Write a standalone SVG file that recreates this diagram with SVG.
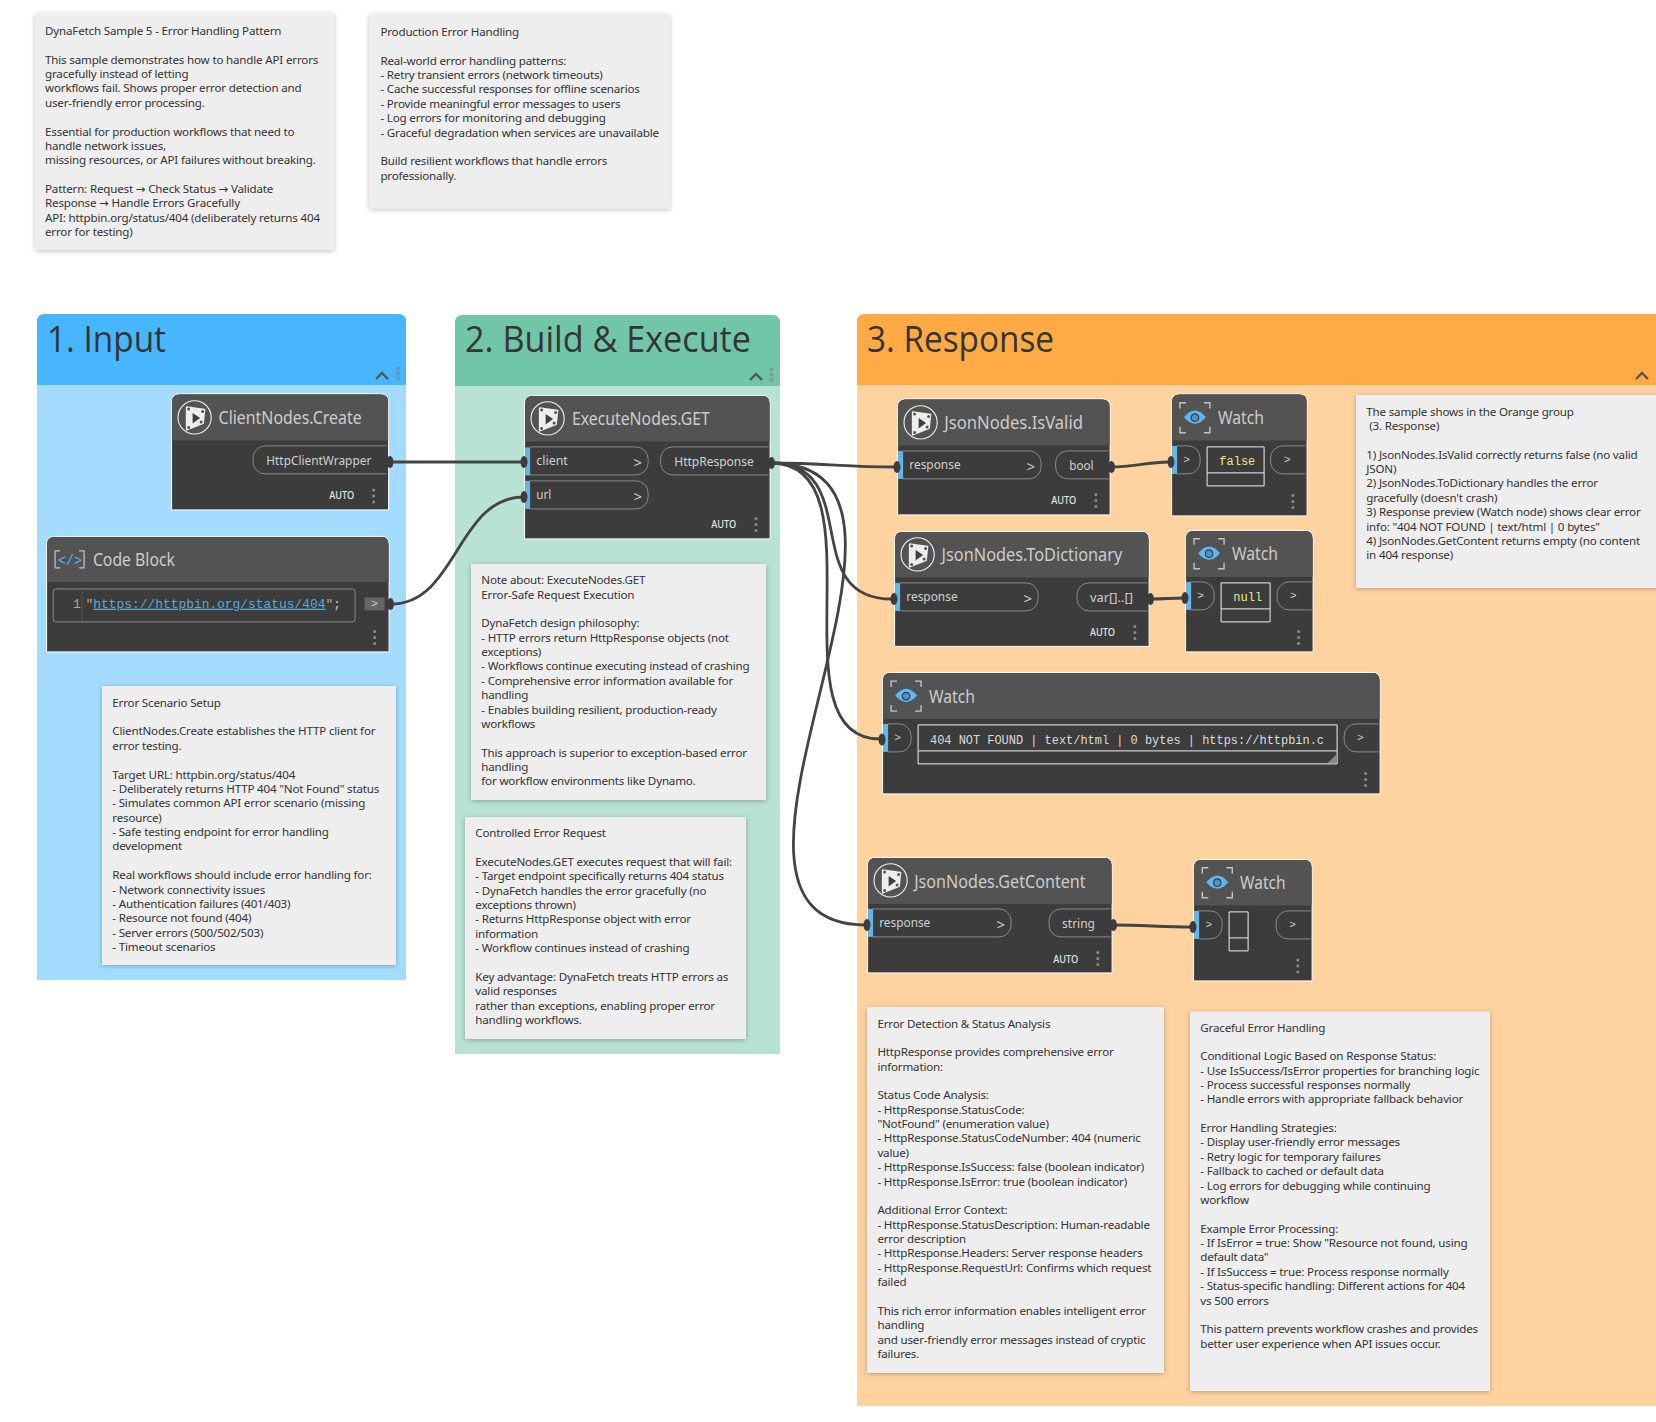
<svg xmlns="http://www.w3.org/2000/svg" xmlns:xlink="http://www.w3.org/1999/xlink" width="1656" height="1422" viewBox="0 0 1656 1422">
<style>
text{font-family:"Noto Sans","DejaVu Sans",sans-serif}
.bg{fill:#fff}
.gt{font-size:36px;fill:#353535;font-weight:400;font-family:"Open Sans","Noto Sans",sans-serif}
.note{fill:#eee;filter:url(#sh)}
.nt{font-size:11.6px;fill:#333;letter-spacing:-.18px}
.body{fill:#3c3c3c;stroke:#fff;stroke-width:1}
.bar{fill:#535353}
.title{font-size:18px;fill:#ccc}
.port{font-size:13px;fill:#d0d0d0}
.pill{fill:none;stroke:#8a8a8a;stroke-width:1}
.blue{fill:#62b7e8}
.chev{font-size:15px;fill:#d0d0d0}
.wch{font-size:11px;fill:#ccc;font-family:"Liberation Mono",monospace}
.auto{font-size:10.5px;fill:#e4e4e4;font-weight:500}
.box{fill:none;stroke:#eee;stroke-width:1}
.mono{font-size:12px;font-family:"Liberation Mono",monospace}
.wire{fill:none;stroke:#444;stroke-width:2.8}
.stub{fill:#3c3c3c}
.ch{fill:none;stroke:#555;stroke-width:2.4}
.gd{fill:none;stroke:#777;stroke-width:.9}
</style>
<defs>
<filter id="sh" x="-5%" y="-5%" width="110%" height="110%"><feDropShadow dx="0" dy="1" stdDeviation="2.5" flood-color="#000" flood-opacity=".28"/></filter>
<g id="dyn">
<circle r="16.6" fill="none" stroke="#f2f2f2" stroke-width="1.1"/>
<path d="M-8,-10.5L10,-8L8.5,6L-8,12.5Z" fill="#eee" stroke="#eee" stroke-width="1.5" stroke-linejoin="round"/>
<path d="M-2,-4.5L5.5,0.5L-2,6Z" fill="#3f3f3f"/>
<circle cx="-6" cy="-8.5" r="1.5" fill="#555"/><circle cx="8" cy="-6" r="1.5" fill="#555"/><circle cx="6.5" cy="4.5" r="1.5" fill="#555"/><circle cx="-6" cy="10" r="1.5" fill="#555"/>
</g>
<g id="eye">
<path d="M-15,-9V-15H-9M9,-15H15V-9M-15,9V15H-9M9,15H15V9" fill="none" stroke="#c4c4c4" stroke-width="1.4"/>
<path d="M-11,-.5Q0,-14 11,-.5Q0,12.5 -11,-.5Z" fill="#5db8f2"/>
<circle r="3.8" fill="#4d94c4" stroke="#3c3c3c" stroke-width="1.2"/>
</g>
<g id="dots"><circle cy="-6" r="1.5" fill="#8c8c8c"/><circle r="1.5" fill="#8c8c8c"/><circle cy="6" r="1.5" fill="#8c8c8c"/></g>
<g id="gmenu"><path class="ch" d="M-6,4L0,-2L6,4"/></g>
<g id="gdots"><circle class="gd" cy="-5" r="1.4"/><circle class="gd" r="1.4"/><circle class="gd" cy="5" r="1.4"/></g>
</defs>
<rect class="bg" width="1656" height="1422"/>

<g id="group-input">
<path d="M37,980V322Q37,314 45,314H398Q406,314 406,322V980Z" fill="#a4dcff"/>
<path d="M37,385V322Q37,314 45,314H398Q406,314 406,322V385Z" fill="#48b6ff"/>
<text class="gt" x="47" y="351.5" textLength="119" lengthAdjust="spacingAndGlyphs">1. Input</text>
<use xlink:href="#gmenu" href="#gmenu" x="382" y="375"/><use xlink:href="#gdots" href="#gdots" x="398" y="373.5"/>
</g>
<g id="group-build">
<path d="M455,1054V323Q455,315 463,315H772Q780,315 780,323V1054Z" fill="#b8e2d3"/>
<path d="M455,386V323Q455,315 463,315H772Q780,315 780,323V386Z" fill="#71c6a8"/>
<text class="gt" x="465" y="351.5" textLength="286" lengthAdjust="spacingAndGlyphs">2. Build &amp; Execute</text>
<use xlink:href="#gmenu" href="#gmenu" x="756" y="376"/><use xlink:href="#gdots" href="#gdots" x="771.5" y="374.5"/>
</g>
<g id="group-response">
<path d="M857,1406V322Q857,314 865,314H1656V1406Z" fill="#ffd3a0"/>
<path d="M857,385V322Q857,314 865,314H1656V385Z" fill="#ffaa45"/>
<text class="gt" x="867" y="351.5" textLength="187" lengthAdjust="spacingAndGlyphs">3. Response</text>
<use xlink:href="#gmenu" href="#gmenu" x="1642" y="375"/>
</g>

<g id="note-sample">
<rect class="note" x="35.5" y="13.5" width="298.5" height="236.5"/>
<text class="nt" y="35"><tspan x="45">DynaFetch Sample 5 - Error Handling Pattern</tspan><tspan x="45" dy="28.74">This sample demonstrates how to handle API errors</tspan><tspan x="45" dy="14.37">gracefully instead of letting</tspan><tspan x="45" dy="14.37">workflows fail. Shows proper error detection and</tspan><tspan x="45" dy="14.37">user-friendly error processing.</tspan><tspan x="45" dy="28.74">Essential for production workflows that need to</tspan><tspan x="45" dy="14.37">handle network issues,</tspan><tspan x="45" dy="14.37">missing resources, or API failures without breaking.</tspan><tspan x="45" dy="28.74">Pattern: Request → Check Status → Validate</tspan><tspan x="45" dy="14.37">Response → Handle Errors Gracefully</tspan><tspan x="45" dy="14.37">API: httpbin.org/status/404 (deliberately returns 404</tspan><tspan x="45" dy="14.37">error for testing)</tspan></text>
</g>
<g id="note-production">
<rect class="note" x="369.5" y="14.5" width="300" height="194"/>
<text class="nt" y="36"><tspan x="380.4">Production Error Handling</tspan><tspan x="380.4" dy="28.74">Real-world error handling patterns:</tspan><tspan x="380.4" dy="14.37">- Retry transient errors (network timeouts)</tspan><tspan x="380.4" dy="14.37">- Cache successful responses for offline scenarios</tspan><tspan x="380.4" dy="14.37">- Provide meaningful error messages to users</tspan><tspan x="380.4" dy="14.37">- Log errors for monitoring and debugging</tspan><tspan x="380.4" dy="14.37">- Graceful degradation when services are unavailable</tspan><tspan x="380.4" dy="28.74">Build resilient workflows that handle errors</tspan><tspan x="380.4" dy="14.37">professionally.</tspan></text>
</g>
<g id="note-scenario">
<rect class="note" x="102" y="686" width="294" height="279"/>
<text class="nt" y="706.7"><tspan x="112.3">Error Scenario Setup</tspan><tspan x="112.3" dy="28.74">ClientNodes.Create establishes the HTTP client for</tspan><tspan x="112.3" dy="14.37">error testing.</tspan><tspan x="112.3" dy="28.74">Target URL: httpbin.org/status/404</tspan><tspan x="112.3" dy="14.37">- Deliberately returns HTTP 404 "Not Found" status</tspan><tspan x="112.3" dy="14.37">- Simulates common API error scenario (missing</tspan><tspan x="112.3" dy="14.37">resource)</tspan><tspan x="112.3" dy="14.37">- Safe testing endpoint for error handling</tspan><tspan x="112.3" dy="14.37">development</tspan><tspan x="112.3" dy="28.74">Real workflows should include error handling for:</tspan><tspan x="112.3" dy="14.37">- Network connectivity issues</tspan><tspan x="112.3" dy="14.37">- Authentication failures (401/403)</tspan><tspan x="112.3" dy="14.37">- Resource not found (404)</tspan><tspan x="112.3" dy="14.37">- Server errors (500/502/503)</tspan><tspan x="112.3" dy="14.37">- Timeout scenarios</tspan></text>
</g>
<g id="note-get">
<rect class="note" x="471" y="564" width="295" height="236"/>
<text class="nt" y="584.2"><tspan x="481.3">Note about: ExecuteNodes.GET</tspan><tspan x="481.3" dy="14.37">Error-Safe Request Execution</tspan><tspan x="481.3" dy="28.74">DynaFetch design philosophy:</tspan><tspan x="481.3" dy="14.37">- HTTP errors return HttpResponse objects (not</tspan><tspan x="481.3" dy="14.37">exceptions)</tspan><tspan x="481.3" dy="14.37">- Workflows continue executing instead of crashing</tspan><tspan x="481.3" dy="14.37">- Comprehensive error information available for</tspan><tspan x="481.3" dy="14.37">handling</tspan><tspan x="481.3" dy="14.37">- Enables building resilient, production-ready</tspan><tspan x="481.3" dy="14.37">workflows</tspan><tspan x="481.3" dy="28.74">This approach is superior to exception-based error</tspan><tspan x="481.3" dy="14.37">handling</tspan><tspan x="481.3" dy="14.37">for workflow environments like Dynamo.</tspan></text>
</g>
<g id="note-controlled">
<rect class="note" x="465" y="817" width="281" height="222"/>
<text class="nt" y="837.2"><tspan x="475.3">Controlled Error Request</tspan><tspan x="475.3" dy="28.74">ExecuteNodes.GET executes request that will fail:</tspan><tspan x="475.3" dy="14.37">- Target endpoint specifically returns 404 status</tspan><tspan x="475.3" dy="14.37">- DynaFetch handles the error gracefully (no</tspan><tspan x="475.3" dy="14.37">exceptions thrown)</tspan><tspan x="475.3" dy="14.37">- Returns HttpResponse object with error</tspan><tspan x="475.3" dy="14.37">information</tspan><tspan x="475.3" dy="14.37">- Workflow continues instead of crashing</tspan><tspan x="475.3" dy="28.74">Key advantage: DynaFetch treats HTTP errors as</tspan><tspan x="475.3" dy="14.37">valid responses</tspan><tspan x="475.3" dy="14.37">rather than exceptions, enabling proper error</tspan><tspan x="475.3" dy="14.37">handling workflows.</tspan></text>
</g>
<g id="note-orange">
<rect class="note" x="1356" y="395" width="310" height="193"/>
<text class="nt" y="415.6"><tspan x="1366.3">The sample shows in the Orange group</tspan><tspan x="1366.3" dy="14.37"> (3. Response)</tspan><tspan x="1366.3" dy="28.74">1) JsonNodes.IsValid correctly returns false (no valid</tspan><tspan x="1366.3" dy="14.37">JSON)</tspan><tspan x="1366.3" dy="14.37">2) JsonNodes.ToDictionary handles the error</tspan><tspan x="1366.3" dy="14.37">gracefully (doesn't crash)</tspan><tspan x="1366.3" dy="14.37">3) Response preview (Watch node) shows clear error</tspan><tspan x="1366.3" dy="14.37">info: "404 NOT FOUND | text/html | 0 bytes"</tspan><tspan x="1366.3" dy="14.37">4) JsonNodes.GetContent returns empty (no content</tspan><tspan x="1366.3" dy="14.37">in 404 response)</tspan></text>
</g>
<g id="note-detection">
<rect class="note" x="867" y="1007" width="297" height="366"/>
<text class="nt" y="1027.5"><tspan x="877.4">Error Detection &amp; Status Analysis</tspan><tspan x="877.4" dy="28.74">HttpResponse provides comprehensive error</tspan><tspan x="877.4" dy="14.37">information:</tspan><tspan x="877.4" dy="28.74">Status Code Analysis:</tspan><tspan x="877.4" dy="14.37">- HttpResponse.StatusCode:</tspan><tspan x="877.4" dy="14.37">"NotFound" (enumeration value)</tspan><tspan x="877.4" dy="14.37">- HttpResponse.StatusCodeNumber: 404 (numeric</tspan><tspan x="877.4" dy="14.37">value)</tspan><tspan x="877.4" dy="14.37">- HttpResponse.IsSuccess: false (boolean indicator)</tspan><tspan x="877.4" dy="14.37">- HttpResponse.IsError: true (boolean indicator)</tspan><tspan x="877.4" dy="28.74">Additional Error Context:</tspan><tspan x="877.4" dy="14.37">- HttpResponse.StatusDescription: Human-readable</tspan><tspan x="877.4" dy="14.37">error description</tspan><tspan x="877.4" dy="14.37">- HttpResponse.Headers: Server response headers</tspan><tspan x="877.4" dy="14.37">- HttpResponse.RequestUrl: Confirms which request</tspan><tspan x="877.4" dy="14.37">failed</tspan><tspan x="877.4" dy="28.74">This rich error information enables intelligent error</tspan><tspan x="877.4" dy="14.37">handling</tspan><tspan x="877.4" dy="14.37">and user-friendly error messages instead of cryptic</tspan><tspan x="877.4" dy="14.37">failures.</tspan></text>
</g>
<g id="note-graceful">
<rect class="note" x="1190" y="1011.5" width="300" height="379.5"/>
<text class="nt" y="1031.5"><tspan x="1200.3">Graceful Error Handling</tspan><tspan x="1200.3" dy="28.74">Conditional Logic Based on Response Status:</tspan><tspan x="1200.3" dy="14.37">- Use IsSuccess/IsError properties for branching logic</tspan><tspan x="1200.3" dy="14.37">- Process successful responses normally</tspan><tspan x="1200.3" dy="14.37">- Handle errors with appropriate fallback behavior</tspan><tspan x="1200.3" dy="28.74">Error Handling Strategies:</tspan><tspan x="1200.3" dy="14.37">- Display user-friendly error messages</tspan><tspan x="1200.3" dy="14.37">- Retry logic for temporary failures</tspan><tspan x="1200.3" dy="14.37">- Fallback to cached or default data</tspan><tspan x="1200.3" dy="14.37">- Log errors for debugging while continuing</tspan><tspan x="1200.3" dy="14.37">workflow</tspan><tspan x="1200.3" dy="28.74">Example Error Processing:</tspan><tspan x="1200.3" dy="14.37">- If IsError = true: Show "Resource not found, using</tspan><tspan x="1200.3" dy="14.37">default data"</tspan><tspan x="1200.3" dy="14.37">- If IsSuccess = true: Process response normally</tspan><tspan x="1200.3" dy="14.37">- Status-specific handling: Different actions for 404</tspan><tspan x="1200.3" dy="14.37">vs 500 errors</tspan><tspan x="1200.3" dy="28.74">This pattern prevents workflow crashes and provides</tspan><tspan x="1200.3" dy="14.37">better user experience when API issues occur.</tspan></text>
</g>

<g id="node-client" transform="translate(-.4,-.6)">
<path class="body" d="M172,510.5V402.5Q172,394.5 180,394.5H381Q389,394.5 389,402.5V510.5Z"/>
<path class="bar" d="M172.5,441V402.5Q172.5,395 180,395H381Q388.5,395 388.5,402.5V441Z"/>
<use xlink:href="#dyn" href="#dyn" x="195" y="418"/>
<text class="title" x="219" y="425" textLength="143" lengthAdjust="spacingAndGlyphs">ClientNodes.Create</text>
<path class="pill" d="M387,446.5H265.5A12,12 0 0 0 253.5,458.5V462.5A12,12 0 0 0 265.5,474.5H387"/>
<text class="port" x="266.7" y="465.7" textLength="105" lengthAdjust="spacingAndGlyphs">HttpClientWrapper</text>
<text class="auto" x="329.7" y="500" textLength="25" lengthAdjust="spacingAndGlyphs">AUTO</text>
<use xlink:href="#dots" href="#dots" x="374" y="496.5"/>
</g>
<g id="node-codeblock" transform="translate(-.4,-.6)">
<path class="body" d="M47,652.5V545Q47,537 55,537H381.5Q389.5,537 389.5,545V652.5Z"/>
<path class="bar" d="M47.5,582.5V545Q47.5,537.5 55,537.5H381.5Q389,537.5 389,545V582.5Z"/>
<path d="M60.5,551.5H55.5V568.5H60.5M79.5,551.5H84.5V568.5H79.5" fill="none" stroke="#c4c4c4" stroke-width="1.2"/>
<text x="58.5" y="565.5" style="font-size:15px;fill:#5db8f2;font-family:'Liberation Mono',monospace" textLength="24" lengthAdjust="spacingAndGlyphs">&lt;/&gt;</text>
<text class="title" x="93.3" y="566.7" textLength="82" lengthAdjust="spacingAndGlyphs">Code Block</text>
<rect x="53.5" y="589.5" width="302" height="33" rx="3" fill="none" stroke="#8a8a8a"/>
<path d="M82.5,590V622" stroke="#777" stroke-dasharray="1 1.5"/>
<text x="73.3" y="608.3" style="font-size:12.9px;fill:#aaa;font-family:'Liberation Mono',monospace">1</text>
<text x="86" y="608.3" style="font-size:12.9px;fill:#ccc;font-family:'Liberation Mono',monospace"><tspan fill="#d9a066">"</tspan><tspan fill="#5aa9d6" text-decoration="underline">https://httpbin.org/status/404</tspan><tspan fill="#d9a066">"</tspan>;</text>
<rect x="365" y="598" width="20" height="13" fill="#666"/>
<text class="wch" x="375" y="608" text-anchor="middle">&gt;</text>
<use xlink:href="#dots" href="#dots" x="375" y="638"/>
</g>
<g id="node-get" transform="translate(-.4,-.6)">
<path class="body" d="M525,539.5V404Q525,396 533,396H762.5Q770.5,396 770.5,404V539.5Z"/>
<path class="bar" d="M525.5,442V404Q525.5,396.5 533,396.5H762.5Q770,396.5 770,404V442Z"/>
<use xlink:href="#dyn" href="#dyn" x="548" y="419"/>
<text class="title" x="572.3" y="426" textLength="138" lengthAdjust="spacingAndGlyphs">ExecuteNodes.GET</text>
<rect class="blue" x="525.5" y="448" width="5" height="28"/>
<path class="pill" d="M530,447.5H636.5A12,12 0 0 1 648.5,459.5V463.5A12,12 0 0 1 636.5,475.5H530"/>
<text class="port" x="536.7" y="466" textLength="31.5" lengthAdjust="spacingAndGlyphs">client</text>
<text class="chev" x="634" y="468.5">&gt;</text>
<rect class="blue" x="525.5" y="481.5" width="5" height="28"/>
<path class="pill" d="M530,481.5H636.5A12,12 0 0 1 648.5,493.5V497.5A12,12 0 0 1 636.5,509.5H530"/>
<text class="port" x="536.7" y="500" textLength="15" lengthAdjust="spacingAndGlyphs">url</text>
<text class="chev" x="634" y="502.5">&gt;</text>
<path class="pill" d="M769,447.5H673A12,12 0 0 0 661,459.5V463.5A12,12 0 0 0 673,475.5H769"/>
<text class="port" x="674.7" y="466.7" textLength="79.5" lengthAdjust="spacingAndGlyphs">HttpResponse</text>
<text class="auto" x="711.7" y="529" textLength="25" lengthAdjust="spacingAndGlyphs">AUTO</text>
<use xlink:href="#dots" href="#dots" x="756.3" y="525"/>
</g>
<g id="node-isvalid" transform="translate(-.4,-.6)">
<path class="body" d="M898,515.5V407.5Q898,399.5 906,399.5H1102.5Q1110.5,399.5 1110.5,407.5V515.5Z"/>
<path class="bar" d="M898.5,446V407.5Q898.5,400 906,400H1102.5Q1110,400 1110,407.5V446Z"/>
<use xlink:href="#dyn" href="#dyn" x="921" y="423"/>
<text class="title" x="944.7" y="430" textLength="138.6" lengthAdjust="spacingAndGlyphs">JsonNodes.IsValid</text>
<rect class="blue" x="898.5" y="451.5" width="5" height="28"/>
<path class="pill" d="M903,451.5H1029.5A12,12 0 0 1 1041.5,463.5V467.5A12,12 0 0 1 1029.5,479.5H903"/>
<text class="port" x="909.7" y="470" textLength="51.3" lengthAdjust="spacingAndGlyphs">response</text>
<text class="chev" x="1027" y="472.5">&gt;</text>
<path class="pill" d="M1109,451.5H1068A12,12 0 0 0 1056,463.5V467.5A12,12 0 0 0 1068,479.5H1109"/>
<text class="port" x="1069.7" y="471" textLength="24.3" lengthAdjust="spacingAndGlyphs">bool</text>
<text class="auto" x="1051.7" y="505" textLength="25" lengthAdjust="spacingAndGlyphs">AUTO</text>
<use xlink:href="#dots" href="#dots" x="1096.3" y="501"/>
</g>
<g id="node-watch-isvalid" transform="translate(-.4,-.6)">
<path class="body" d="M1172,516.5V402.5Q1172,394.5 1180,394.5H1299.5Q1307.5,394.5 1307.5,402.5V516.5Z"/>
<path class="bar" d="M1172.5,441V402.5Q1172.5,395 1180,395H1299.5Q1307,395 1307,402.5V441Z"/>
<use xlink:href="#eye" href="#eye" x="1195.3" y="418.3"/>
<text class="title" x="1218.3" y="425" textLength="46" lengthAdjust="spacingAndGlyphs">Watch</text>
<rect class="blue" x="1172.5" y="446.5" width="5" height="28"/>
<path class="pill" d="M1177,446.5H1188.5A12,12 0 0 1 1200.5,458.5V462.5A12,12 0 0 1 1188.5,474.5H1177"/>
<text class="wch" x="1187" y="464" text-anchor="middle">&gt;</text>
<path class="box" d="M1207.5,447.5H1264.5V486.5H1207.5ZM1207.5,473.5H1264.5"/>
<text class="mono" x="1219.7" y="465.3" fill="#e8e88f">false</text>
<path class="pill" d="M1306,446.5H1283A12,12 0 0 0 1271,458.5V462.5A12,12 0 0 0 1283,474.5H1306"/>
<text class="wch" x="1287.7" y="464" text-anchor="middle">&gt;</text>
<use xlink:href="#dots" href="#dots" x="1293.3" y="502"/>
</g>
<g id="node-todictionary" transform="translate(-.4,-.6)">
<path class="body" d="M895,647V540Q895,532 903,532H1141.5Q1149.5,532 1149.5,540V647Z"/>
<path class="bar" d="M895.5,578V540Q895.5,532.5 903,532.5H1141.5Q1149,532.5 1149,540V578Z"/>
<use xlink:href="#dyn" href="#dyn" x="918" y="555"/>
<text class="title" x="942" y="561.7" textLength="180.7" lengthAdjust="spacingAndGlyphs">JsonNodes.ToDictionary</text>
<rect class="blue" x="895.5" y="583.5" width="5" height="28"/>
<path class="pill" d="M900,583.5H1026.5A12,12 0 0 1 1038.5,595.5V599.5A12,12 0 0 1 1026.5,611.5H900"/>
<text class="port" x="906.7" y="602" textLength="51.3" lengthAdjust="spacingAndGlyphs">response</text>
<text class="chev" x="1024" y="604.5">&gt;</text>
<path class="pill" d="M1148,583.5H1089.5A12,12 0 0 0 1077.5,595.5V599.5A12,12 0 0 0 1089.5,611.5H1148"/>
<text class="port" x="1090.3" y="603" textLength="43" lengthAdjust="spacingAndGlyphs">var[]..[]</text>
<text class="auto" x="1090.3" y="637" textLength="25" lengthAdjust="spacingAndGlyphs">AUTO</text>
<use xlink:href="#dots" href="#dots" x="1135.3" y="633"/>
</g>
<g id="node-watch-todictionary" transform="translate(-.4,-.6)">
<path class="body" d="M1186,652.5V539Q1186,531 1194,531H1305.5Q1313.5,531 1313.5,539V652.5Z"/>
<path class="bar" d="M1186.5,577.5V539Q1186.5,531.5 1194,531.5H1305.5Q1313,531.5 1313,539V577.5Z"/>
<use xlink:href="#eye" href="#eye" x="1209.5" y="554.3"/>
<text class="title" x="1232.3" y="561" textLength="46" lengthAdjust="spacingAndGlyphs">Watch</text>
<rect class="blue" x="1186.5" y="582.5" width="5" height="28"/>
<path class="pill" d="M1191,582.5H1202.5A12,12 0 0 1 1214.5,594.5V598.5A12,12 0 0 1 1202.5,610.5H1191"/>
<text class="wch" x="1201" y="600" text-anchor="middle">&gt;</text>
<path class="box" d="M1221.5,583.5H1270.5V622.5H1221.5ZM1221.5,609.5H1270.5"/>
<text class="mono" x="1233.7" y="602" fill="#e8e88f">null</text>
<path class="pill" d="M1312,582.5H1289.5A12,12 0 0 0 1277.5,594.5V598.5A12,12 0 0 0 1289.5,610.5H1312"/>
<text class="wch" x="1293.7" y="600" text-anchor="middle">&gt;</text>
<use xlink:href="#dots" href="#dots" x="1299" y="638"/>
</g>
<g id="node-watch-preview" transform="translate(-.4,-.6)">
<path class="body" d="M883,794.5V681Q883,673 891,673H1372.5Q1380.5,673 1380.5,681V794.5Z"/>
<path class="bar" d="M883.5,719.5V681Q883.5,673.5 891,673.5H1372.5Q1380,673.5 1380,681V719.5Z"/>
<use xlink:href="#eye" href="#eye" x="906.5" y="696.7"/>
<text class="title" x="929.3" y="703.3" textLength="46" lengthAdjust="spacingAndGlyphs">Watch</text>
<rect class="blue" x="883.5" y="724.5" width="5" height="28"/>
<path class="pill" d="M888,724.5H899.5A12,12 0 0 1 911.5,736.5V740.5A12,12 0 0 1 899.5,752.5H888"/>
<text class="wch" x="898" y="742" text-anchor="middle">&gt;</text>
<path class="box" d="M918.5,725.5H1337.5V764.5H918.5ZM918.5,751.5H1337.5"/>
<text class="mono" x="930.4" y="744.3" fill="#dcdcdc" xml:space="preserve" textLength="394" lengthAdjust="spacingAndGlyphs">404 NOT FOUND | text/html | 0 bytes | https://httpbin.c</text>
<path d="M1337,755V763.5H1328Z" fill="#8a8a8a"/>
<path class="pill" d="M1379,724.5H1356.5A12,12 0 0 0 1344.5,736.5V740.5A12,12 0 0 0 1356.5,752.5H1379"/>
<text class="wch" x="1360.7" y="742" text-anchor="middle">&gt;</text>
<use xlink:href="#dots" href="#dots" x="1366" y="780"/>
</g>
<g id="node-getcontent" transform="translate(-.4,-.6)">
<path class="body" d="M868,973.5V866Q868,858 876,858H1104.5Q1112.5,858 1112.5,866V973.5Z"/>
<path class="bar" d="M868.5,904.5V866Q868.5,858.5 876,858.5H1104.5Q1112,858.5 1112,866V904.5Z"/>
<use xlink:href="#dyn" href="#dyn" x="891" y="881"/>
<text class="title" x="914.6" y="888.3" textLength="171.4" lengthAdjust="spacingAndGlyphs">JsonNodes.GetContent</text>
<rect class="blue" x="868.5" y="909.5" width="5" height="28"/>
<path class="pill" d="M873,909.5H999.5A12,12 0 0 1 1011.5,921.5V925.5A12,12 0 0 1 999.5,937.5H873"/>
<text class="port" x="879.6" y="928" textLength="51.1" lengthAdjust="spacingAndGlyphs">response</text>
<text class="chev" x="997" y="930.5">&gt;</text>
<path class="pill" d="M1111,909.5H1061.5A12,12 0 0 0 1049.5,921.5V925.5A12,12 0 0 0 1061.5,937.5H1111"/>
<text class="port" x="1062.5" y="928.7" textLength="32.9" lengthAdjust="spacingAndGlyphs">string</text>
<text class="auto" x="1053.6" y="963.3" textLength="25" lengthAdjust="spacingAndGlyphs">AUTO</text>
<use xlink:href="#dots" href="#dots" x="1098.2" y="959"/>
</g>
<g id="node-watch-getcontent" transform="translate(-.4,-.6)">
<path class="body" d="M1194,981.5V868Q1194,860 1202,860H1304.5Q1312.5,860 1312.5,868V981.5Z"/>
<path class="bar" d="M1194.5,906V868Q1194.5,860.5 1202,860.5H1304.5Q1312,860.5 1312,868V906Z"/>
<use xlink:href="#eye" href="#eye" x="1217.7" y="883.3"/>
<text class="title" x="1240.4" y="890" textLength="45.6" lengthAdjust="spacingAndGlyphs">Watch</text>
<rect class="blue" x="1194.5" y="911.5" width="5" height="28"/>
<path class="pill" d="M1199,911.5H1210.5A12,12 0 0 1 1222.5,923.5V927.5A12,12 0 0 1 1210.5,939.5H1199"/>
<text class="wch" x="1209.3" y="929" text-anchor="middle">&gt;</text>
<path class="box" d="M1229.5,912.5H1248.5V951.5H1229.5ZM1229.5,938.5H1248.5"/>
<path class="pill" d="M1311,911.5H1288.5A12,12 0 0 0 1276.5,923.5V927.5A12,12 0 0 0 1288.5,939.5H1311"/>
<text class="wch" x="1292.9" y="929" text-anchor="middle">&gt;</text>
<use xlink:href="#dots" href="#dots" x="1298.2" y="966.7"/>
</g>

<g id="connectors">
<path class="wire" d="M391,462H524"/>
<path class="wire" d="M391,604C457,604 457,497 524,497"/>
<path class="wire" d="M771,463C830,463 840,467 896,467"/>
<path class="wire" d="M771,463C865,463 797,599 892,599"/>
<path class="wire" d="M771,463C885,463 770,739 880,739"/>
<path class="wire" d="M771,463C980,463 660,925 866,925"/>
<path class="wire" d="M1111,467C1135,467 1145,462 1170,462"/>
<path class="wire" d="M1151,599C1165,599 1170,598 1184,598"/>
<path class="wire" d="M1114,925C1140,925 1165,927 1191,927"/>
<g class="stub">
<ellipse cx="390" cy="462" rx="3.5" ry="6"/><ellipse cx="524" cy="462" rx="3.5" ry="6"/>
<ellipse cx="390.5" cy="604" rx="3.5" ry="6"/><ellipse cx="524" cy="497" rx="3.5" ry="6"/>
<ellipse cx="771.5" cy="463" rx="3.5" ry="6"/><ellipse cx="897" cy="467" rx="3.5" ry="6"/>
<ellipse cx="894" cy="599" rx="3.5" ry="6"/><ellipse cx="882" cy="739.5" rx="3.5" ry="6"/>
<ellipse cx="867" cy="925" rx="3.5" ry="6"/><ellipse cx="1111.5" cy="467" rx="3.5" ry="6"/>
<ellipse cx="1171" cy="462" rx="3.5" ry="6"/><ellipse cx="1150.5" cy="599" rx="3.5" ry="6"/>
<ellipse cx="1185" cy="598" rx="3.5" ry="6"/><ellipse cx="1113.5" cy="925" rx="3.5" ry="6"/>
<ellipse cx="1193" cy="927" rx="3.5" ry="6"/>
</g>
</g>
</svg>
